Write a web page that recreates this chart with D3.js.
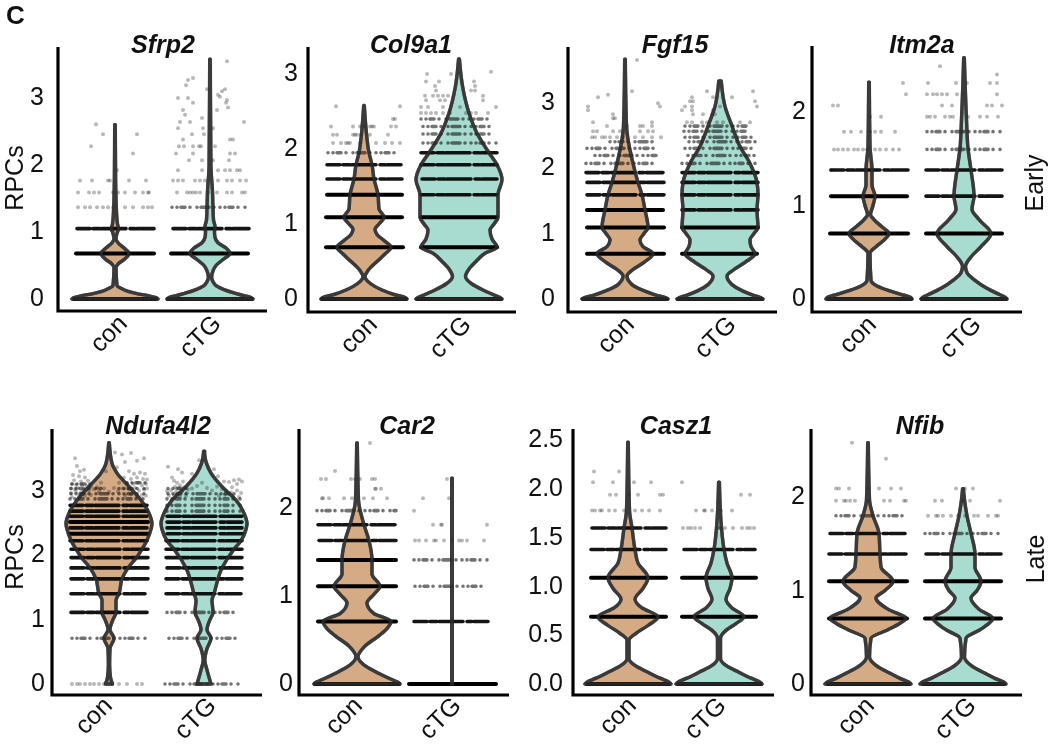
<!DOCTYPE html>
<html><head><meta charset="utf-8">
<script src="https://cdn.jsdelivr.net/npm/d3@7/dist/d3.min.js"></script>
<style>html,body{margin:0;padding:0;background:#fff}svg{display:block;filter:blur(.5px)}text{font-family:"Liberation Sans",Arial,sans-serif;fill:#111}</style>
</head><body><svg id="c" width="1050" height="750"></svg>
<script>
const groups = ["con","cTG"];
const genes = ["Sfrp2","Col9a1","Fgf15","Itm2a","Ndufa4l2","Car2","Casz1","Nfib"];
const tickLists = [[0,1,2,3],[0,1,2,3],[0,1,2,3],[0,1,2],[0,1,2,3],[0,1,2],[0,.5,1,1.5,2,2.5],[0,1,2]];
const tickFormats = ["d","d","d","d","d","d",".1f","d"];
const rowLabels = ["Early","Late"];

// Violin outlines: [expression, half width]
const sfrp2Con=[[0,43],[.02,41],[.05,33],[.08,22],[.11,14],[.16,6],[.2,2],[.47,1],[.52,3],[.6,10],[.68,14],[.76,9],[.84,3],[.9,1],[.98,2],[1.05,3.5],[1.12,2.5],[1.3,1.5],[1.8,.6],[2.6,.3]];
const sfrp2TG=[[0,43],[.02,41],[.05,34],[.09,24],[.14,14],[.2,6],[.26,3],[.33,1.6],[.42,3],[.5,6],[.6,14],[.68,20],[.76,16],[.84,8],[.92,5],[1,4.5],[1.08,5],[1.18,3.5],[1.35,3],[1.6,2.5],[2,.9],[3.58,.3]];
const col9a1Con=[[0,43],[.02,41],[.06,30],[.12,18],[.2,7],[.3,1],[.38,4],[.5,13],[.6,21],[.69,27],[.78,20],[.86,13],[.93,11],[1,15],[1.09,20],[1.2,15],[1.39,14],[1.6,10],[1.79,8],[1.95,5],[2.2,2.5],[2.4,1.2],[2.58,.3]];
const col9a1TG=[[0,43],[.02,41],[.06,34],[.12,24],[.2,13],[.3,6.5],[.4,10],[.5,17],[.61,26],[.69,38],[.8,33],[.92,31],[1,35],[1.09,39],[1.39,39],[1.59,43],[1.79,38],[1.95,30],[2.21,18],[2.48,10],[2.84,3.5],[3.2,.4]];
const fgf15Con=[[0,43],[.02,41],[.06,31],[.12,20],[.22,7],[.35,2],[.45,8],[.56,19],[.69,28],[.8,18],[.9,15],[1,19],[1.09,23],[1.36,20],[1.59,17],[1.78,13],[2.07,8],[2.64,1.5],[3.66,.3]];
const fgf15TG=[[0,43],[.02,41],[.06,33],[.12,23],[.22,12],[.35,7],[.45,14],[.56,25],[.69,35],[.8,31],[.9,30],[1,34],[1.09,38],[1.36,37],[1.59,38],[1.78,37],[2.07,30],[2.33,20],[2.64,12],[2.94,5],[3.33,1.2]];
const itm2aCon=[[0,43],[.02,41],[.05,32],[.09,20],[.14,8],[.2,2],[.49,1],[.56,7],[.63,15],[.7,20],[.78,12],[.85,5],[.9,1.5],[1,4],[1.1,6],[1.22,3],[1.38,3],[1.63,1],[2.32,.3]];
const itm2aTG=[[0,43],[.02,41],[.06,33],[.12,22],[.2,11],[.28,3],[.35,1.5],[.45,7],[.56,17],[.7,27],[.85,15],[.96,8],[1.1,10],[1.38,7],[1.61,4],[1.92,2.5],[2.58,.3]];
const ndufaCon=[[0,3.5],[.1,1.5],[.3,.6],[.55,1],[.71,5],[.84,1],[1,4],[1.11,7],[1.3,7],[1.4,10],[1.63,13],[1.8,19],[1.97,28],[2.09,33],[2.23,38],[2.4,42],[2.49,43],[2.65,40],[2.85,32],[3.06,20],[3.27,8],[3.42,3],[3.74,.3]];
const ndufaTG=[[0,7],[.22,3],[.37,.8],[.55,3],[.71,7],[.84,3],[1,6],[1.11,9],[1.3,8],[1.4,10],[1.8,18],[2.09,30],[2.22,37],[2.4,42],[2.49,43],[2.65,40],[2.85,32],[3.06,18],[3.27,7],[3.42,2.5],[3.61,.3]];
const car2Con=[[0,43],[.02,41],[.06,33],[.12,22],[.2,9],[.31,1],[.42,7],[.55,22],[.63,30],[.71,34],[.8,17],[.92,10],[1.02,17],[1.11,23],[1.25,15],[1.41,15],[1.63,12],[1.81,7],[2.09,1.5],[2.74,.3]];
const car2TG=[[0,.3],[2.34,.3]];
const casz1Con=[[0,43],[.02,41],[.06,32],[.12,20],[.19,7],[.26,1],[.45,1],[.52,8],[.6,20],[.69,30],[.78,14],[.87,7],[.98,15],[1.09,20],[1.24,10],[1.38,7],[1.6,4],[1.78,1.5],[2.48,.3]];
const casz1TG=[[0,43],[.02,41],[.06,32],[.12,20],[.19,7],[.26,1.5],[.47,1.5],[.55,7],[.62,17],[.69,25],[.78,13],[.87,7],[.98,11],[1.09,13],[1.24,8],[1.38,5],[1.6,2.5],[2.07,.4]];
const nfibCon=[[0,43],[.02,41],[.06,32],[.12,21],[.2,8],[.29,1.5],[.49,3],[.58,20],[.65,32],[.7,38],[.8,20],[.92,8],[1,17],[1.1,25],[1.25,13],[1.39,12],[1.61,11],[1.8,5],[1.97,1.5],[2.58,.3]];
const nfibTG=[[0,43],[.02,41],[.06,32],[.12,21],[.2,8],[.29,1.5],[.49,3],[.58,17],[.65,26],[.7,30],[.8,16],[.92,8],[1,14],[1.1,18],[1.25,12],[1.39,12],[1.61,8],[1.8,4],[1.97,1.5],[2.09,.4]];

// Dense strips: [expression, left, right, density]
const sfrp2ConRows=[[0,-41,41,3],[.68,-39,39,3],[1.05,-38,39,2]];
const sfrp2TGRows=[[0,-42,42,3],[.68,-39,38,3],[1.05,-37,39,2],[1.37,-38,36,1]];
const col9a1ConRows=[[0,-42,42,3],[.69,-38,39,3],[1.09,-38,38,3],[1.39,-37,38,3],[1.6,-37,38,2],[1.79,-37,37,2],[1.95,-36,33,1]];
const col9a1TGRows=[[0,-42,42,3],[.69,-38,38,3],[1.09,-38,38,3],[1.39,-38,38,2],[1.6,-37,38,2],[1.79,-38,38,2],[1.95,-38,38,2],[2.08,-36,38,1],[2.2,-36,36,1],[2.3,-36,36,1],[2.4,-38,34,1]];
const fgf15ConRows=[[0,-42,42,3],[.69,-38,39,3],[1.09,-38,39,3],[1.36,-38,38,3],[1.59,-38,39,2],[1.78,-38,39,2],[1.93,-39,39,2],[2.07,-39,32,1],[2.19,-30,32,1],[2.3,-38,35,1],[2.4,-15,28,1]];
const fgf15TGRows=[[0,-42,42,3],[.69,-38,37,3],[1.09,-38,38,3],[1.36,-38,38,2],[1.59,-38,38,2],[1.78,-38,38,2],[1.93,-38,38,2],[2.07,-38,38,1],[2.19,-32,37,1],[2.3,-35,36,1],[2.4,-31,37,1],[2.47,-35,38,1],[2.56,-36,30,1],[2.64,-35,27,1]];
const itm2aConRows=[[0,-41,42,3],[.7,-39,39,3],[1.1,-38,38,3],[1.38,-38,39,2]];
const itm2aTGRows=[[0,-42,42,3],[.7,-38,38,3],[1.1,-38,38,2],[1.38,-38,38,2],[1.6,-37,38,1],[1.79,-37,38,1]];
const ndufaConRows=[[.71,-37,38,1],[1.11,-38,38,2],[1.4,-38,36,2],[1.63,-38,39,2],[1.8,-38,39,2],[1.96,-38,39,2],[2.09,-38,39,2],[2.22,-39,39,2],[2.33,-39,39,3],[2.42,-39,39,2],[2.51,-39,39,3],[2.6,-39,39,2],[2.68,-39,39,2],[2.77,-39,38,2],[2.87,-39,38,1],[2.95,-38,37,1],[3.03,-38,-8,1],[3.03,10,38,1],[3.1,-37,-16,1],[3.12,18,37,1]];
const ndufaTGRows=[[0,-39,38,1],[.71,-35,36,1],[1.11,-37,35,1],[1.4,-38,37,2],[1.63,-38,38,2],[1.8,-37,38,2],[1.96,-38,38,2],[2.09,-38,38,2],[2.22,-38,38,2],[2.33,-37,39,2],[2.42,-37,38,2],[2.51,-37,38,2],[2.6,-37,38,2],[2.68,-37,38,1],[2.77,-37,38,1],[2.87,-37,37,1],[2.95,-36,36,1],[3.03,-36,-12,1]];
const car2ConRows=[[0,-42,42,3],[.71,-39,39,3],[1.11,-39,39,3],[1.41,-39,39,3],[1.63,-38,39,2],[1.81,-39,39,2],[1.97,-40,39,1]];
const car2TGRows=[[0,-43,44,3],[.71,-38,36,2],[1.11,-37,36,1],[1.41,-38,37,1]];
const casz1ConRows=[[0,-41,41,3],[.69,-37,38,3],[1.09,-37,38,3],[1.38,-37,38,2],[1.6,-36,38,2]];
const casz1TGRows=[[0,-41,42,3],[.69,-37,37,3],[1.09,-37,37,3],[1.38,-35,36,2]];
const nfibConRows=[[0,-40,41,3],[.7,-39,39,3],[1.1,-39,39,3],[1.39,-39,38,2],[1.61,-38,37,2],[1.8,-32,37,1]];
const nfibTGRows=[[0,-40,41,3],[.7,-38,38,3],[1.1,-38,38,3],[1.39,-37,38,2],[1.61,-38,38,1]];

// Single cells: [jitter, expression]
const sfrp2ConDots=[[-37,1.37],[-30,1.37],[-25,1.37],[-18,1.37],[-12,1.37],[-7,1.37],[-2,1.37],[10,1.37],[18,1.37],[28,1.37],[33,1.37],[37,1.37],[-37,1.59],[-26,1.59],[-21,1.59],[-16,1.59],[-2,1.59],[3,1.59],[10,1.59],[20,1.59],[28,1.59],[34,1.59],[33,1.59],[-35,1.77],[-23,1.77],[-7,1.77],[-5,1.77],[14,1.77],[31,1.77],[2,1.92],[18,2.17],[-24,2.28],[-12,2.46],[22,2.46],[-19,2.61]];
const sfrp2TGDots=[[-33,1.59],[-23,1.59],[-20,1.59],[-17,1.59],[-14,1.59],[-10,1.59],[-2,1.59],[7,1.59],[17,1.59],[22,1.59],[32,1.59],[35,1.59],[-37,1.77],[-32,1.77],[-27,1.77],[-15,1.77],[-10,1.77],[-5,1.77],[8,1.77],[17,1.77],[22,1.77],[30,1.77],[36,1.77],[-32,1.92],[-8,1.92],[8,1.92],[15,1.92],[20,1.92],[27,1.92],[30,1.92],[-21,2.07],[-8,2.07],[3,2.07],[19,2.07],[-34,2.17],[-17,2.17],[20,2.17],[25,2.17],[-31,2.28],[-26,2.28],[-17,2.28],[-11,2.28],[-9,2.28],[5,2.28],[-27,2.38],[20,2.38],[23,2.38],[-18,2.46],[-6,2.46],[-32,2.55],[-7,2.55],[3,2.55],[-30,2.64],[-20,2.64],[34,2.64],[-8,2.7],[-25,2.75],[-27,2.82],[7,2.82],[18,2.86],[-17,2.93],[16,2.93],[17,2.97],[-32,3],[-22,3],[10,3.02],[8,3.05],[12,3.1],[-3,3.13],[15,3.13],[-24,3.19],[-22,3.27],[-17,3.3],[17,3.55]];
const col9a1ConDots=[[-31,2.08],[-23,2.08],[-18,2.08],[-16,2.08],[-14,2.08],[-4,2.08],[12,2.08],[21,2.08],[28,2.08],[36,2.08],[-31,2.19],[-27,2.19],[-11,2.19],[-9,2.19],[-7,2.19],[-3,2.19],[6,2.19],[24,2.19],[-33,2.3],[-11,2.3],[-4,2.3],[1,2.3],[6,2.3],[8,2.3],[10,2.3],[27,2.3],[32,2.3],[29,2.4],[31,2.4],[-28,2.57],[36,2.57]];
const col9a1TGDots=[[-38,2.48],[-33,2.48],[-28,2.48],[-23,2.48],[-16,2.48],[-9,2.48],[7,2.48],[12,2.48],[17,2.48],[29,2.48],[-38,2.56],[-31,2.56],[-16,2.56],[1,2.56],[37,2.56],[-33,2.65],[-19,2.65],[-14,2.65],[24,2.65],[-34,2.71],[-26,2.71],[-21,2.71],[-16,2.71],[-11,2.71],[24,2.71],[-23,2.78],[12,2.78],[16,2.78],[-24,2.84],[16,2.84],[-33,2.9],[-20,2.9],[15,2.9],[-32,3],[-8,3],[32,3.03]];
const fgf15ConDots=[[-33,2.47],[-30,2.47],[-23,2.47],[-20,2.47],[-15,2.47],[-8,2.47],[-2,2.47],[10,2.47],[18,2.47],[27,2.47],[36,2.47],[-32,2.56],[-28,2.56],[-12,2.56],[-5,2.56],[15,2.56],[23,2.56],[28,2.56],[-18,2.64],[2,2.64],[15,2.64],[18,2.64],[27,2.64],[-32,2.7],[27,2.7],[-12,2.76],[-10,2.76],[-12,2.82],[-37,2.88],[-37,2.94],[35,2.94],[33,2.99],[-27,3.08],[-17,3.12],[7,3.17],[12,3.65]];
const fgf15TGDots=[[-33,2.7],[-28,2.7],[-18,2.7],[-13,2.7],[-3,2.7],[3,2.7],[20,2.7],[30,2.7],[-27,2.82],[-17,2.82],[-8,2.82],[-5,2.82],[-38,2.88],[-28,2.88],[-7,2.88],[-35,2.94],[-28,2.94],[0,2.94],[37,2.94],[-27,3.02],[-30,3.02],[35,3.02],[-28,3.08],[-7,3.08],[12,3.08],[-13,3.17],[33,3.17]];
const itm2aConDots=[[-38,1.38],[-35,1.6],[-31,1.6],[-26,1.6],[-21,1.6],[-15,1.6],[-11,1.6],[-6,1.6],[-2,1.6],[6,1.6],[11,1.6],[17,1.6],[24,1.6],[30,1.6],[-25,1.79],[-18,1.79],[-8,1.79],[1,1.79],[6,1.79],[12,1.79],[26,1.79],[1,1.95],[12,1.95],[-36,2.07],[-31,2.07],[37,2.19],[34,2.31]];
const itm2aTGDots=[[-37,1.95],[-34,1.95],[-29,1.95],[-19,1.95],[-14,1.95],[-11,1.95],[4,1.95],[16,1.95],[23,1.95],[34,1.95],[-22,2.07],[-12,2.07],[23,2.07],[28,2.07],[38,2.07],[-37,2.19],[-31,2.19],[-27,2.19],[-22,2.19],[-17,2.19],[-7,2.19],[-1,2.19],[33,2.19],[-36,2.31],[-8,2.31],[3,2.31],[26,2.31],[33,2.31],[33,2.4],[-24,2.49]];
const ndufaConDots=[[-37,0],[-32,0],[-29,0],[-24,0],[-19,0],[-15,0],[-10,0],[-5,0],[3,0],[10,0],[18,0],[28,0],[33,0],[-34,3.5],[-32,3.38],[-25,3.32],[-29,3.3],[-36,3.24],[-30,3.22],[-24,3.2],[-35,3.16],[-28,3.14],[-21,3.15],[-37,3.1],[-33,3.09],[-27,3.08],[-22,3.07],[-18,3.06],[-38,3.03],[-34,3.02],[-31,3.04],[-26,3.01],[-20,3],[-15,3.02],[-12,3.05],[-8,3.12],[-3,3.3],[6,3.59],[13,3.56],[22,3.58],[16,3.44],[28,3.46],[35,3.5],[8,3.36],[20,3.3],[25,3.26],[31,3.28],[36,3.26],[15,3.2],[22,3.18],[28,3.2],[34,3.18],[38,3.17],[10,3.12],[18,3.11],[24,3.1],[29,3.12],[33,3.08],[37,3.1],[14,3.03],[20,3.02],[26,3.04],[30,3],[35,3.01],[38,3.03],[-10,2.99],[-5,3.03],[0,2.98],[5,3.04],[9,2.99],[-38,2.96],[-33,2.98],[-28,2.97],[-37,2.9],[-30,2.91],[-24,2.92],[-18,2.93],[33,2.93],[28,2.91],[37,2.92],[22,2.94],[16,2.92]];
const ndufaTGDots=[[-36,3.37],[-26,3.33],[-22,3.28],[-12,3.26],[10,3.33],[1,3.61],[-5,3.47],[14,3.22],[-32,3.2],[-30,3.15],[-27,3.12],[-24,3.08],[-21,3.14],[-29,3.06],[-25,3.04],[-20,3.05],[-16,3.02],[30,3.16],[35,3.17],[25,3.13],[20,3.14],[33,3.1],[28,3.05],[38,3.14],[-37,2.99],[-33,3],[-28,2.98],[-22,2.99],[-17,2.96],[-12,3.03],[-7,3.07],[-2,3.12],[3,3.04],[8,3],[13,3.06],[18,3.02],[22,2.99],[27,2.97],[33,3],[37,2.96],[-35,2.92],[-30,2.93],[-24,2.91],[-18,2.92],[15,2.92],[21,2.93],[29,2.91],[35,2.9]];
const car2ConDots=[[-35,2.11],[-34,2.11],[-28,2.11],[-13,2.11],[-5,2.11],[7,2.11],[16,2.11],[30,2.11],[18,2.22],[19,2.22],[24,2.22],[-36,2.33],[-31,2.33],[-6,2.33],[-2,2.33],[3,2.33],[15,2.33],[18,2.33],[-22,2.42],[13,2.74]];
const car2TGDots=[[-37,1.63],[-33,1.63],[-26,1.63],[-18,1.63],[-16,1.63],[-8,1.63],[0,1.63],[7,1.63],[10,1.63],[15,1.63],[32,1.63],[-19,1.81],[-11,1.81],[-10,1.81],[35,1.81],[-38,1.97],[-29,2.11],[-3,2.11],[-5,2.33]];
const casz1ConDots=[[-36,1.78],[-33,1.78],[-28,1.78],[-26,1.78],[-19,1.78],[-13,1.78],[-4,1.78],[7,1.78],[14,1.78],[21,1.78],[32,1.78],[-18,1.94],[-12,1.94],[1,1.94],[10,1.94],[32,1.94],[35,1.94],[-35,2.07],[-15,2.07],[6,2.07],[23,2.07],[-34,2.18],[-9,2.18]];
const casz1TGDots=[[-36,1.6],[-31,1.6],[-28,1.6],[-24,1.6],[-19,1.6],[0,1.6],[1,1.6],[6,1.6],[14,1.6],[23,1.6],[28,1.6],[31,1.6],[35,1.6],[-23,1.78],[-15,1.78],[-14,1.78],[-7,1.78],[2,1.78],[13,1.78],[22,1.94],[31,1.94],[-37,2.07]];
const nfibConDots=[[-32,1.96],[-24,1.96],[-22,1.96],[-18,1.96],[-13,1.96],[0,1.96],[16,1.96],[22,1.96],[36,1.96],[38,1.96],[-32,2.09],[-29,2.09],[-19,2.09],[0,2.09],[11,2.09],[23,2.09],[33,2.09],[18,2.41],[-16,2.58]];
const nfibTGDots=[[-35,1.8],[-27,1.8],[-25,1.8],[-20,1.8],[-12,1.8],[-5,1.8],[2,1.8],[11,1.8],[15,1.8],[25,1.8],[33,1.8],[35,1.8],[-28,1.96],[-21,1.96],[0,1.96],[7,1.96],[37,1.96],[-7,2.09],[2,2.09],[10,2.09]];

const profiles=[[sfrp2Con,sfrp2TG],[col9a1Con,col9a1TG],[fgf15Con,fgf15TG],[itm2aCon,itm2aTG],[ndufaCon,ndufaTG],[car2Con,car2TG],[casz1Con,casz1TG],[nfibCon,nfibTG]];
const rows=[[sfrp2ConRows,sfrp2TGRows],[col9a1ConRows,col9a1TGRows],[fgf15ConRows,fgf15TGRows],[itm2aConRows,itm2aTGRows],[ndufaConRows,ndufaTGRows],[car2ConRows,car2TGRows],[casz1ConRows,casz1TGRows],[nfibConRows,nfibTGRows]];
const dots=[[sfrp2ConDots,sfrp2TGDots],[col9a1ConDots,col9a1TGDots],[fgf15ConDots,fgf15TGDots],[itm2aConDots,itm2aTGDots],[ndufaConDots,ndufaTGDots],[car2ConDots,car2TGDots],[casz1ConDots,casz1TGDots],[nfibConDots,nfibTGDots]];

// Layout, separate from data
const L={ axisX:[58,308,568,812,52,299,573,811], right:[267,516,777,1022,262,509,774,1022],
  top:[47,47,47,46,429,429,429,429], bottom:[311,312,312,312,695,695,695,695],
  zero:[299,299,299,299,684,684,684,684], unit:[67,75,65.5,93.5,64.5,88,97.5,93.5],
  c1:[115,364,625,869,109,357,628,868], c2:[210,459,720,964,204,452,719,963],
  titleX:[163,411,675,922,158,407,676,920], pad:[14,10,13,6,7,6,10,6],
  labelShift:[[13,12],[14,13],[10,17],[8,18],[4,13],[6,10],[9,8],[7,14]] };
const fills=["#d5ab85","#a9dcd1"];
const stroke="#3b3b3b";
const dash={3:{d:null,o:1,w:4},2:{d:"13 3 7 2 24 4 5 2 17 3",o:.92,w:3.6},1:{d:"0 5 0 4 4 5 0 7 0 4 8 5 0 6",o:.55,w:3.6}};

const svg=d3.select("#c");
genes.forEach((gene,i)=>{
  const g=svg.append("g");
  const y=d3.scaleLinear().domain([0,1]).range([L.zero[i],L.zero[i]-L.unit[i]]);
  const x=d3.scalePoint().domain(groups).range([L.c1[i],L.c2[i]]);

  groups.forEach((grp,k)=>{
    const cx=x(grp);
    const area=d3.area().y(d=>y(d[0])).x0(d=>cx-d[1]).x1(d=>cx+d[1]).curve(d3.curveMonotoneY);
    g.append("path").attr("d",area(profiles[i][k])).attr("fill",fills[k])
      .attr("stroke",stroke).attr("stroke-width",3.4).attr("stroke-linejoin","round");
    g.append("g").selectAll("line").data(rows[i][k]).join("line")
      .attr("x1",d=>cx+d[1]).attr("x2",d=>cx+d[2]).attr("y1",d=>y(d[0])).attr("y2",d=>y(d[0]))
      .attr("stroke","#000").attr("stroke-linecap","round")
      .attr("stroke-width",d=>dash[d[3]].w).attr("stroke-opacity",d=>dash[d[3]].o)
      .attr("stroke-dasharray",d=>dash[d[3]].d);
    g.append("g").selectAll("circle").data(dots[i][k]).join("circle")
      .attr("cx",d=>cx+d[0]).attr("cy",d=>y(d[1])).attr("r",2)
      .attr("fill","#000").attr("fill-opacity",.28);
    g.append("path").attr("d",area(profiles[i][k])).attr("fill","none")
      .attr("stroke",stroke).attr("stroke-opacity",.65).attr("stroke-width",3.4).attr("stroke-linejoin","round");
  });

  const yAxis=d3.axisLeft(y).tickValues(tickLists[i]).tickSize(0).tickPadding(L.pad[i]).tickFormat(d3.format(tickFormats[i]));
  const ya=g.append("g").attr("transform",`translate(${L.axisX[i]},-1.5)`).call(yAxis);
  ya.select(".domain").remove();
  ya.selectAll("text").style("font-size","25px").attr("fill","#111");
  const xAxis=d3.axisBottom(x).tickSize(0).tickPadding(0);
  const xa=g.append("g").attr("transform",`translate(0,${L.bottom[i]})`).call(xAxis);
  xa.select(".domain").remove();
  xa.selectAll("text").style("font-size","25px").attr("fill","#111")
    .attr("text-anchor","end").attr("dy",0).attr("y",0)
    .attr("transform",(d,k)=>`translate(${L.labelShift[i][k]},${i<4?14:12}) rotate(-45)`);
  g.append("path").attr("d",`M${L.axisX[i]},${L.top[i]}V${L.bottom[i]}H${L.right[i]}`)
    .attr("fill","none").attr("stroke","#000").attr("stroke-width",3.2);
  g.append("text").attr("x",L.titleX[i]).attr("y",i<4?53:434).attr("text-anchor","middle")
    .style("font-size","25px").style("font-weight","bold").style("font-style","italic").text(gene);
});

svg.append("text").attr("x",6).attr("y",24).style("font-size","26px").style("font-weight","bold").text("C");
[[23,178],[23,557]].forEach(p=>svg.append("text").attr("transform",`translate(${p[0]},${p[1]}) rotate(-90)`)
  .attr("text-anchor","middle").style("font-size","25px").text("RPCs"));
[[1043,183],[1044,559]].forEach((p,i)=>svg.append("text").attr("transform",`translate(${p[0]},${p[1]}) rotate(-90)`)
  .attr("text-anchor","middle").style("font-size","25px").text(rowLabels[i]));
</script></body></html>
